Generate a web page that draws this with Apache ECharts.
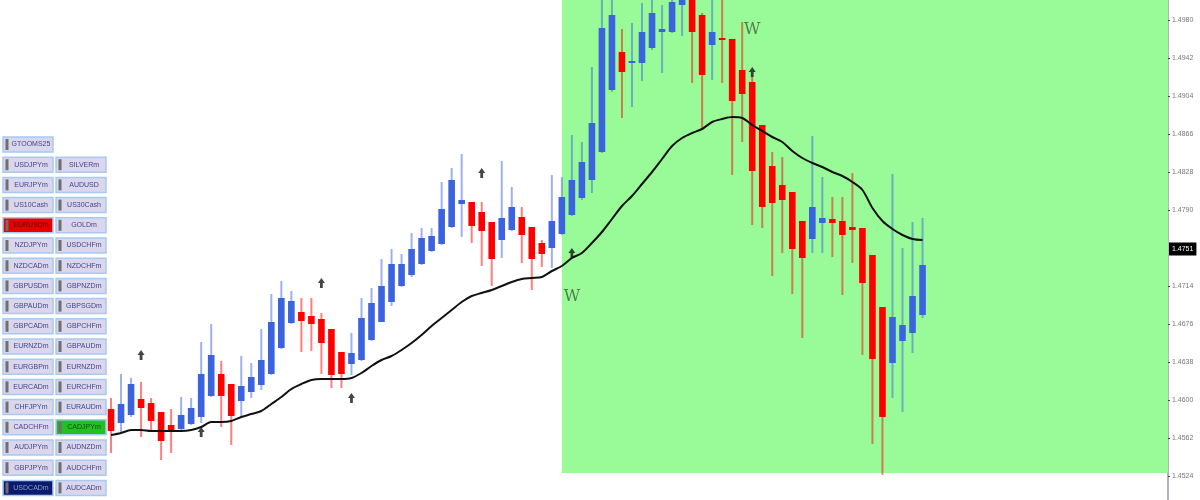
<!DOCTYPE html>
<html><head><meta charset="utf-8">
<script src="https://cdn.jsdelivr.net/npm/echarts@6/dist/echarts.min.js"></script>
<style>html,body{margin:0;padding:0;background:#fff}#c{width:1200px;height:500px}</style>
</head><body><div id="c"></div>
<script>
// ---- data ----
const opens = [1.4591,1.4577,1.4585,1.4601,1.4597,1.4588,1.4575,1.4571,1.4576,1.4583,
1.4604,1.4626,1.4616,1.4599,1.4608,1.4615,1.4626,1.4652,1.4677,1.4688,
1.4684,1.4681,1.4671,1.4648,1.4636,1.4640,1.4660,1.4678,1.4698,1.4714,
1.4725,1.4736,1.4749,1.4756,1.4773,1.4796,1.4798,1.4788,1.4778,1.4760,
1.4770,1.4783,1.4773,1.4757,1.4752,1.4766,1.4785,1.4802,1.4820,1.4848,
1.4910,1.4948,1.4937,1.4937,1.4952,1.4968,1.4968,1.4995,1.5000,1.4985,
1.4955,1.4962,1.4961,1.4930,1.4918,1.4875,1.4834,1.4815,1.4808,1.4779,
1.4761,1.4777,1.4781,1.4779,1.4773,1.4772,1.4745,1.4693,1.4637,1.4659,
1.4667,1.4685];
const closes = [1.4569,1.4596,1.4616,1.4592,1.4579,1.4559,1.4568,1.4585,1.4592,1.4626,
1.4645,1.4604,1.4584,1.4614,1.4623,1.4640,1.4678,1.4702,1.4699,1.4679,
1.4676,1.4657,1.4625,1.4626,1.4647,1.4682,1.4697,1.4714,1.4736,1.4736,
1.4751,1.4762,1.4764,1.4791,1.4820,1.4800,1.4774,1.4769,1.4741,1.4782,
1.4793,1.4765,1.4741,1.4746,1.4779,1.4803,1.4820,1.4838,1.4877,1.4972,
1.4985,1.4928,1.4939,1.4968,1.4987,1.4971,1.4998,1.5000,1.4968,1.4925,
1.4968,1.4960,1.4899,1.4906,1.4829,1.4793,1.4797,1.4800,1.4751,1.4742,
1.4793,1.4782,1.4777,1.4765,1.4770,1.4717,1.4641,1.4583,1.4683,1.4675,
1.4704,1.4735];
const lows = [1.4547,1.4567,1.4583,1.4563,1.4568,1.4540,1.4547,1.4568,1.4575,1.4577,
1.4603,1.4573,1.4555,1.4583,1.4602,1.4610,1.4625,1.4651,1.4676,1.4648,
1.4649,1.4626,1.4612,1.4612,1.4625,1.4639,1.4659,1.4678,1.4694,1.4713,
1.4723,1.4735,1.4748,1.4755,1.4772,1.4763,1.4757,1.4734,1.4714,1.4742,
1.4769,1.4737,1.4710,1.4733,1.4732,1.4765,1.4784,1.4800,1.4807,1.4847,
1.4908,1.4882,1.4893,1.4919,1.4950,1.4927,1.4967,1.4964,1.4917,1.4872,
1.4920,1.4917,1.4825,1.4858,1.4775,1.4772,1.4724,1.4747,1.4706,1.4662,
1.4747,1.4747,1.4743,1.4705,1.4737,1.4645,1.4556,1.4525,1.4602,1.4588,
1.4647,1.4682];
const highs = [1.4602,1.4626,1.4622,1.4618,1.4602,1.4588,1.4591,1.4603,1.4602,1.4658,
1.4676,1.4639,1.4616,1.4644,1.4637,1.4671,1.4706,1.4719,1.4709,1.4702,
1.4702,1.4687,1.4671,1.4648,1.4667,1.4702,1.4712,1.4741,1.4751,1.4746,
1.4767,1.4772,1.4772,1.4818,1.4832,1.4846,1.4798,1.4798,1.4778,1.4839,
1.4813,1.4793,1.4773,1.4760,1.4825,1.4823,1.4865,1.4858,1.4933,1.5005,
1.5005,1.4971,1.4977,1.4997,1.5003,1.4995,1.5004,1.5004,1.5004,1.4987,
1.5003,1.5003,1.4961,1.4978,1.4923,1.4875,1.4848,1.4843,1.4808,1.4779,
1.4864,1.4823,1.4803,1.4803,1.4827,1.4772,1.4745,1.4693,1.4826,1.4752,
1.4778,1.4782];
const maValues = [1.4565,1.4567,1.4570,1.4570,1.4569,1.4569,1.4569,1.4569,1.4570,1.4573,
1.4578,1.4578,1.4579,1.4583,1.4586,1.4589,1.4596,1.4603,1.4611,1.4616,
1.4620,1.4621,1.4621,1.4621,1.4622,1.4627,1.4634,1.4640,1.4644,1.4650,
1.4657,1.4665,1.4674,1.4682,1.4690,1.4698,1.4704,1.4707,1.4710,1.4714,
1.4718,1.4721,1.4722,1.4723,1.4729,1.4734,1.4742,1.4747,1.4757,1.4768,
1.4781,1.4794,1.4804,1.4816,1.4828,1.4841,1.4854,1.4862,1.4867,1.4871,
1.4878,1.4881,1.4883,1.4882,1.4875,1.4869,1.4863,1.4858,1.4849,1.4842,
1.4837,1.4833,1.4828,1.4824,1.4818,1.4810,1.4792,1.4779,1.4771,1.4765,
1.4761,1.4760];
const fractalIdx = [3, 9, 21, 24, 37, 46, 64];
const fractalPrice = [1.4645, 1.4568, 1.4717, 1.4602, 1.4827, 1.4747, 1.4928];
const waveIdx = [46, 64];
const wavePrice = [1.4703, 1.4970];
const waveText = ['W', 'W'];
const highlightStart = 45;
const highlightLow = 1.4527;
const currentPrice = 1.4751;
const yTicks = [1.4980,1.4942,1.4904,1.4866,1.4828,1.4790,1.4714,1.4676,1.4638,1.4600,1.4562,1.4524];
const slotCount = 106;
const buttonRows = [
  ['GTOOMS25', null],
  ['USDJPYm', 'SILVERm'],
  ['EURJPYm', 'AUDUSD'],
  ['US10Cash', 'US30Cash'],
  ['EURUSDm', 'GOLDm'],
  ['NZDJPYm', 'USDCHFm'],
  ['NZDCADm', 'NZDCHFm'],
  ['GBPUSDm', 'GBPNZDm'],
  ['GBPAUDm', 'GBPSGDm'],
  ['GBPCADm', 'GBPCHFm'],
  ['EURNZDm', 'GBPAUDm'],
  ['EURGBPm', 'EURNZDm'],
  ['EURCADm', 'EURCHFm'],
  ['CHFJPYm', 'EURAUDm'],
  ['CADCHFm', 'CADJPYm'],
  ['AUDJPYm', 'AUDNZDm'],
  ['GBPJPYm', 'AUDCHFm'],
  ['USDCADm', 'AUDCADm']
];
const activeButtons = {'4,0': 'red', '14,1': 'green', '17,0': 'navy'};

// ---- build ----
const categories = Array.from({length: slotCount}, (_, i) => String(i));
const candleData = opens.map((o, i) => [i, o, closes[i], lows[i], highs[i]]);

function renderCandle(params, api) {
  const i = api.value(0), o = api.value(1), c = api.value(2), l = api.value(3), h = api.value(4);
  const pO = api.coord([i, o]), pC = api.coord([i, c]);
  const pL = api.coord([i, l]), pH = api.coord([i, h]);
  const w = api.size([1, 0])[0] * 0.66;
  const up = c >= o;
  const col = up ? '#3b63df' : '#ff0000';
  const top = Math.min(pO[1], pC[1]);
  const hgt = Math.max(Math.abs(pO[1] - pC[1]), 2);
  return {type: 'group', children: [
    {type: 'line', shape: {x1: pH[0], y1: pH[1], x2: pL[0], y2: pL[1]},
     style: {stroke: col, lineWidth: 2, opacity: 0.5}},
    {type: 'rect', shape: {x: pO[0] - w / 2, y: top, width: w, height: hgt},
     style: {fill: col}}
  ]};
}

const graphics = [];
const styles = {
  normal: {fill: '#dad6ec', text: '#45458a'},
  red: {fill: '#e60000', text: '#6a0000'},
  green: {fill: '#22c022', text: '#0d4d0d'},
  navy: {fill: '#0b1a6c', text: '#7fa0d0'}
};
buttonRows.forEach((row, r) => {
  row.forEach((name, c) => {
    if (!name) return;
    const st = styles[activeButtons[r + ',' + c] || 'normal'];
    const x = 3 + c * 53, y = 137 + r * 20.2;
    graphics.push({type: 'rect', shape: {x: x, y: y, width: 50, height: 15},
      style: {fill: st.fill, stroke: '#a9c9f2', lineWidth: 1.5}, z: 10});
    graphics.push({type: 'rect', shape: {x: x + 2.5, y: y + 2, width: 3, height: 11},
      style: {fill: '#6f6f6f'}, z: 11});
    graphics.push({type: 'text', x: x + 28, y: y + 7.5,
      style: {text: name, fill: st.text, font: '7px "Liberation Sans"', align: 'center', verticalAlign: 'middle'}, z: 11});
  });
});

const chart = echarts.init(document.getElementById('c'), null, {renderer: 'canvas'});
chart.setOption({
  animation: false,
  backgroundColor: '#ffffff',
  grid: {left: 106, right: 32, top: 0, bottom: 0},
  xAxis: {type: 'category', data: categories, boundaryGap: true,
    axisLine: {show: false}, axisTick: {show: false}, axisLabel: {show: false}, splitLine: {show: false}},
  yAxis: {type: 'value', position: 'right', min: 1.45, max: 1.5, scale: true,
    axisLine: {show: true, lineStyle: {color: '#b9aec8', width: 2}},
    axisTick: {show: true, length: 2, customValues: yTicks, lineStyle: {color: '#444'}},
    axisLabel: {show: true, customValues: yTicks, fontSize: 7, color: '#777', margin: 4,
      fontFamily: 'Liberation Sans', formatter: v => v.toFixed(4)},
    splitLine: {show: false}},
  graphic: graphics,
  series: [
    {type: 'custom', name: 'price', renderItem: renderCandle, data: candleData, clip: true,
      encode: {x: 0, y: [1, 2, 3, 4]}, z: 3,
      markArea: {silent: true, itemStyle: {color: '#98fb98'},
        data: [[{xAxis: highlightStart, yAxis: highlightLow}, {}]]}},
    {type: 'line', name: 'MA', data: maValues, smooth: 0.3, symbol: 'none', z: 4,
      lineStyle: {color: '#111', width: 2},
      markLine: {silent: true, symbol: 'none', precision: 4,
        lineStyle: {color: 'rgba(0,0,0,0)', width: 0, type: 'solid'},
        label: {show: true, position: 'end', distance: 1, formatter: p => Number(p.value).toFixed(4),
          backgroundColor: '#000', color: '#fff', fontSize: 7, padding: [3, 3],
          fontFamily: 'Liberation Sans', opacity: 1},
        data: [{yAxis: currentPrice}]}},
    {type: 'scatter', name: 'fractals', z: 5,
      data: fractalIdx.map((i, k) => [i, fractalPrice[k]]),
      symbol: 'path://M5,0 L10,6 L7,6 L7,12 L3,12 L3,6 L0,6 Z', symbolSize: [7, 10],
      itemStyle: {color: '#151515'}},
    {type: 'scatter', name: 'waves', z: 5, symbolSize: 0,
      data: waveIdx.map((i, k) => ({value: [i, wavePrice[k]], label: {formatter: waveText[k]}})),
      label: {show: true, position: 'inside', color: '#3f5f3a', fontSize: 16, fontFamily: 'DejaVu Serif'}}
  ]
});
</script>
</body></html>
